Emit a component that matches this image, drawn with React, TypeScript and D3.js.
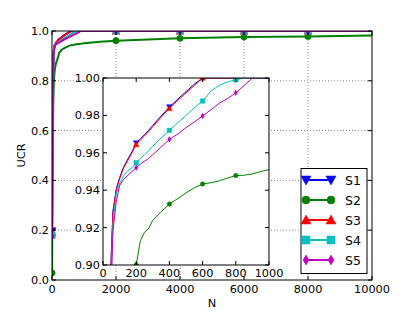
import React from "react";
import * as d3 from "d3";

// sample sizes shared by all series
const N = [1, 10, 20, 30, 40, 50, 60, 80, 100, 125, 150, 175, 200, 225, 250, 275, 300, 350, 400, 450, 500, 550, 600, 650, 700, 750, 800, 850, 900, 950, 1000, 1500, 2000, 3000, 4000, 6000, 8000, 10000];

const S1 = [0.197, 0.56, 0.725, 0.825, 0.875, 0.907, 0.929, 0.9407, 0.9467, 0.9527, 0.9567, 0.9607, 0.9652, 0.9675, 0.9697, 0.972, 0.9747, 0.9797, 0.9845, 0.9887, 0.9927, 0.9967, 1, 1, 1, 1, 1, 1, 1, 1, 1, 1, 1, 1, 1, 1, 1, 1];
const S2 = [0.028, 0.25, 0.45, 0.6, 0.7, 0.76, 0.8, 0.835, 0.855, 0.87, 0.88, 0.89, 0.9, 0.913, 0.9175, 0.9195, 0.924, 0.9285, 0.9326, 0.9355, 0.9385, 0.9413, 0.9433, 0.944, 0.945, 0.9465, 0.9478, 0.948, 0.9487, 0.95, 0.951, 0.957, 0.961, 0.966, 0.9705, 0.976, 0.978, 0.982];
const S3 = [0.19, 0.55, 0.72, 0.82, 0.87, 0.905, 0.928, 0.94, 0.946, 0.952, 0.956, 0.96, 0.9645, 0.9668, 0.969, 0.9713, 0.974, 0.979, 0.9838, 0.988, 0.992, 0.996, 1, 1, 1, 1, 1, 1, 1, 1, 1, 1, 1, 1, 1, 1, 1, 1];
const S4 = [0.18, 0.5, 0.68, 0.78, 0.85, 0.895, 0.922, 0.938, 0.9435, 0.948, 0.9505, 0.952, 0.9547, 0.957, 0.959, 0.961, 0.9635, 0.968, 0.972, 0.976, 0.98, 0.984, 0.9877, 0.993, 0.996, 0.998, 0.999, 1, 1, 1, 1, 1, 1, 1, 1, 1, 1, 1];
const S5 = [0.175, 0.48, 0.66, 0.77, 0.84, 0.89, 0.918, 0.934, 0.9425, 0.946, 0.948, 0.95, 0.952, 0.954, 0.9555, 0.957, 0.959, 0.963, 0.9672, 0.97, 0.9735, 0.9765, 0.9797, 0.983, 0.9865, 0.989, 0.9921, 0.996, 1, 1, 1, 1, 1, 1, 1, 1, 1, 1];

const seriesNames = ["S1", "S2", "S3", "S4", "S5"];
const seriesValues = [S1, S2, S3, S4, S5];
const colors = ["#0000ff", "#008000", "#ff0000", "#00bfbf", "#bf00bf"];
const markers = ["v", "o", "^", "s", "d"];

const mainMarkN = [1, 2000, 4000, 6000, 8000];
const insetMarkN = [1, 200, 400, 600, 800];

const mainXTicks = [0, 2000, 4000, 6000, 8000, 10000];
const mainYTicks = [0, 0.2, 0.4, 0.6, 0.8, 1.0];
const insetXTicks = [0, 200, 400, 600, 800, 1000];
const insetYTicks = [0.9, 0.92, 0.94, 0.96, 0.98, 1.0];

const font = "DejaVu Sans";

function markerPath(kind: string, r: number) {
  switch (kind) {
    case "v":
      return `M${-r},${-r * 0.8}L${r},${-r * 0.8}L0,${r}Z`;
    case "^":
      return `M${-r},${r * 0.8}L${r},${r * 0.8}L0,${-r}Z`;
    case "s":
      return `M${-r * 0.8},${-r * 0.8}H${r * 0.8}V${r * 0.8}H${-r * 0.8}Z`;
    case "d":
      return `M0,${-r}L${r * 0.6},0L0,${r}L${-r * 0.6},0Z`;
    default:
      return `M${r * 0.8},0A${r * 0.8},${r * 0.8} 0 1,1 ${-r * 0.8},0A${r * 0.8},${r * 0.8} 0 1,1 ${r * 0.8},0Z`;
  }
}

export default function App() {
  const x = d3.scaleLinear().domain([0, 10000]).range([52, 372]);
  const y = d3.scaleLinear().domain([0, 1]).range([280, 31]);
  const xi = d3.scaleLinear().domain([0, 1000]).range([103, 269]);
  const yi = d3.scaleLinear().domain([0.9, 1.0]).range([265, 78]);

  const mainLine = d3
    .line<number>()
    .x((_, i) => x(N[i]))
    .y((d) => y(d));

  const insetIdx = N.map((n, i) => i).filter((i) => N[i] <= 1000);
  const insetLine = d3
    .line<number>()
    .x((i) => xi(N[i]))
    .y((i) => yi(seriesValues[0][i]));

  const [ml, mr] = x.range();
  const [mb, mt] = y.range();
  const [il, ir] = xi.range();
  const [ib, it] = yi.range();

  return (
    <svg width={415} height={312} style={{ position: "absolute", left: 0, top: 0, background: "#fff" }} fontFamily={font}>
      <defs>
        <clipPath id="mainClip">
          <rect x={ml} y={mt} width={mr - ml} height={mb - mt} />
        </clipPath>
        <clipPath id="insetClip">
          <rect x={il} y={it} width={ir - il} height={ib - it} />
        </clipPath>
      </defs>
      <rect width={415} height={312} fill="#fff" />

      {/* main grid */}
      <g stroke="#888" strokeWidth={1} strokeDasharray="1,2">
        {mainXTicks.slice(1, -1).map((t) => (
          <line key={"gx" + t} x1={x(t)} x2={x(t)} y1={mt} y2={mb} />
        ))}
        {mainYTicks.slice(1, -1).map((t) => (
          <line key={"gy" + t} x1={ml} x2={mr} y1={y(t)} y2={y(t)} />
        ))}
      </g>

      {/* main lines */}
      <g clipPath="url(#mainClip)">
        {seriesValues.map((vals, s) => (
          <g key={"ml" + s}>
            <path d={mainLine(vals) || ""} fill="none" stroke={colors[s]} strokeWidth={2} strokeLinejoin="round" />
            {mainMarkN.map((n) => {
              const i = N.indexOf(n);
              return (
                <path
                  key={n}
                  d={markerPath(markers[s], 4)}
                  transform={`translate(${x(N[i])},${y(vals[i])})`}
                  fill={colors[s]}
                  stroke={colors[s]}
                  strokeWidth={0.5}
                />
              );
            })}
          </g>
        ))}
      </g>

      {/* main frame and ticks */}
      <rect x={ml} y={mt} width={mr - ml} height={mb - mt} fill="none" stroke="#000" strokeWidth={1} />
      <g stroke="#000" strokeWidth={1}>
        {mainXTicks.map((t) => (
          <g key={"tx" + t}>
            <line x1={x(t)} x2={x(t)} y1={mb} y2={mb - 4} />
            <line x1={x(t)} x2={x(t)} y1={mt} y2={mt + 4} />
          </g>
        ))}
        {mainYTicks.map((t) => (
          <g key={"ty" + t}>
            <line x1={ml} x2={ml + 4} y1={y(t)} y2={y(t)} />
            <line x1={mr} x2={mr - 4} y1={y(t)} y2={y(t)} />
          </g>
        ))}
      </g>
      <g fontSize={11.3} fill="#000">
        {mainXTicks.map((t) => (
          <text key={"lx" + t} x={x(t)} y={293} textAnchor="middle">
            {t}
          </text>
        ))}
        {mainYTicks.map((t) => (
          <text key={"ly" + t} x={ml - 3} y={y(t)} dy="0.36em" textAnchor="end">
            {t.toFixed(1)}
          </text>
        ))}
        <text x={(ml + mr) / 2} y={307} textAnchor="middle">
          N
        </text>
        <text transform={`translate(25,${(mt + mb) / 2}) rotate(-90)`} textAnchor="middle">
          UCR
        </text>
      </g>

      {/* inset */}
      <rect x={il} y={it} width={ir - il} height={ib - it} fill="#fff" />
      <g clipPath="url(#insetClip)">
        {seriesValues.map((vals, s) => {
          const line = insetLine.y((i) => yi(vals[i]));
          return (
            <g key={"il" + s}>
              <path d={line(insetIdx) || ""} fill="none" stroke={colors[s]} strokeWidth={1} strokeLinejoin="round" />
              {insetMarkN.map((n) => {
                const i = N.indexOf(n);
                return (
                  <path
                    key={n}
                    d={markerPath(markers[s], 2.8)}
                    transform={`translate(${xi(N[i])},${yi(vals[i])})`}
                    fill={colors[s]}
                    stroke={colors[s]}
                    strokeWidth={0.5}
                  />
                );
              })}
            </g>
          );
        })}
      </g>
      <rect x={il} y={it} width={ir - il} height={ib - it} fill="none" stroke="#000" strokeWidth={1} />
      <g stroke="#000" strokeWidth={1}>
        {insetXTicks.map((t) => (
          <g key={"itx" + t}>
            <line x1={xi(t)} x2={xi(t)} y1={ib} y2={ib - 4} />
            <line x1={xi(t)} x2={xi(t)} y1={it} y2={it + 4} />
          </g>
        ))}
        {insetYTicks.map((t) => (
          <g key={"ity" + t}>
            <line x1={il} x2={il + 4} y1={yi(t)} y2={yi(t)} />
            <line x1={ir} x2={ir - 4} y1={yi(t)} y2={yi(t)} />
          </g>
        ))}
      </g>
      <g fontSize={11.3} fill="#000">
        {insetXTicks.map((t) => (
          <text key={"ilx" + t} x={xi(t)} y={277} textAnchor="middle">
            {t}
          </text>
        ))}
        {insetYTicks.map((t) => (
          <text key={"ily" + t} x={il - 3} y={yi(t)} dy="0.36em" textAnchor="end">
            {t.toFixed(2)}
          </text>
        ))}
      </g>

      {/* legend */}
      <rect x={301} y={168.5} width={66} height={105} fill="#fff" stroke="#000" strokeWidth={1} />
      {seriesNames.map((name, s) => {
        const cy = 180 + s * 20;
        return (
          <g key={"lg" + name}>
            <line x1={306} x2={331} y1={cy} y2={cy} stroke={colors[s]} strokeWidth={2} />
            <path d={markerPath(markers[s], 5)} transform={`translate(306,${cy})`} fill={colors[s]} stroke={colors[s]} strokeWidth={0.5} />
            <path d={markerPath(markers[s], 5)} transform={`translate(331,${cy})`} fill={colors[s]} stroke={colors[s]} strokeWidth={0.5} />
            <text x={345} y={cy} dy="0.36em" fontSize={12.5} fill="#000">
              {name}
            </text>
          </g>
        );
      })}
    </svg>
  );
}
